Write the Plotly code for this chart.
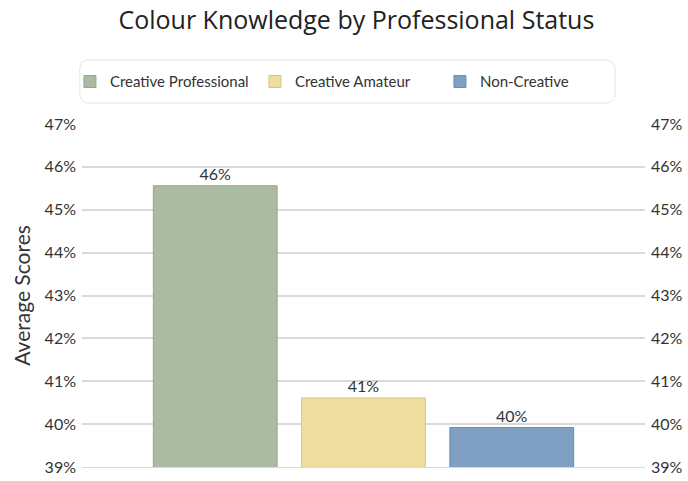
import plotly.graph_objects as go

categories = ["Creative Professional", "Creative Amateur", "Non-Creative"]
scores = [45.56, 40.61, 39.92]
colors = ["#abbaa2", "#efdea0", "#7fa0c3"]
borders = ["#97a88e", "#d8c584", "#6a8bb3"]
tick_vals = [39, 40, 41, 42, 43, 44, 45, 46, 47]
tick_text = [f"{v}%" for v in tick_vals]

FONT = "Lato"
fig = go.Figure()
for name, val, c, b in zip(categories, scores, colors, borders):
    fig.add_trace(go.Bar(
        x=["All"], y=[val], name=name,
        marker=dict(color=c, line=dict(color=b, width=1)),
        text=[f"{val:.0f}%"], textposition="outside",
        textfont=dict(family=FONT, size=16, color="#333333"),
        cliponaxis=False,
    ))
# invisible trace for right axis
fig.add_trace(go.Scatter(x=["All"], y=[43], yaxis="y2", showlegend=False,
                         mode="markers", marker=dict(opacity=0), hoverinfo="skip"))

fig.update_layout(
    width=688, height=481,
    margin=dict(l=82, r=43, t=124, b=14, autoexpand=False),
    paper_bgcolor="white", plot_bgcolor="white",
    title=dict(text="Colour Knowledge by Professional Status", x=0.518, xref="container",
               xanchor="center", y=0.958, yanchor="middle", yref="container",
               font=dict(family="Open Sans", size=25, color="#222222")),
    barmode="group", bargap=0.21, bargroupgap=0.165,
    showlegend=True,
    legend=dict(orientation="h", xref="container", x=0.505, xanchor="center",
                yref="container", y=0.83, yanchor="middle",
                font=dict(family=FONT, size=15, color="#333333"),
                bgcolor="rgba(0,0,0,0)", borderwidth=0,
                itemwidth=30, entrywidth=140, traceorder="normal"),
    xaxis=dict(showticklabels=False, showgrid=False, zeroline=False,
               showline=True, linecolor="#d9d9d9"),
    yaxis=dict(range=[39, 47], tickvals=tick_vals, ticktext=tick_text,
               showgrid=True, gridcolor="#d9d9d9", gridwidth=1.5,
               zeroline=False, showline=False, automargin=False,
               ticklabelstandoff=5,
               tickfont=dict(family=FONT, size=16, color="#333333"),
               title=dict(text="Average Scores", font=dict(family=FONT, size=21, color="#333333"),
                          standoff=8)),
    yaxis2=dict(range=[39, 47], tickvals=tick_vals, ticktext=tick_text,
                overlaying="y", side="right", showgrid=False, zeroline=False,
                automargin=False, ticklabelstandoff=5,
                tickfont=dict(family=FONT, size=16, color="#333333")),
    shapes=[dict(type="path", xref="paper", yref="paper",
                 path="M -0.004 1.09 L -0.004 1.158 Q -0.004 1.187 0.014 1.187 L 0.929 1.187 Q 0.947 1.187 0.947 1.158 L 0.947 1.09 Q 0.947 1.061 0.929 1.061 L 0.014 1.061 Q -0.004 1.061 -0.004 1.09 Z",
                 line=dict(color="#e6e6e6", width=1), fillcolor="rgba(0,0,0,0)", layer="below")],
)

fig.write_html("out.html", config={"displayModeBar": False},
               post_script="document.body.style.margin='0px';")
